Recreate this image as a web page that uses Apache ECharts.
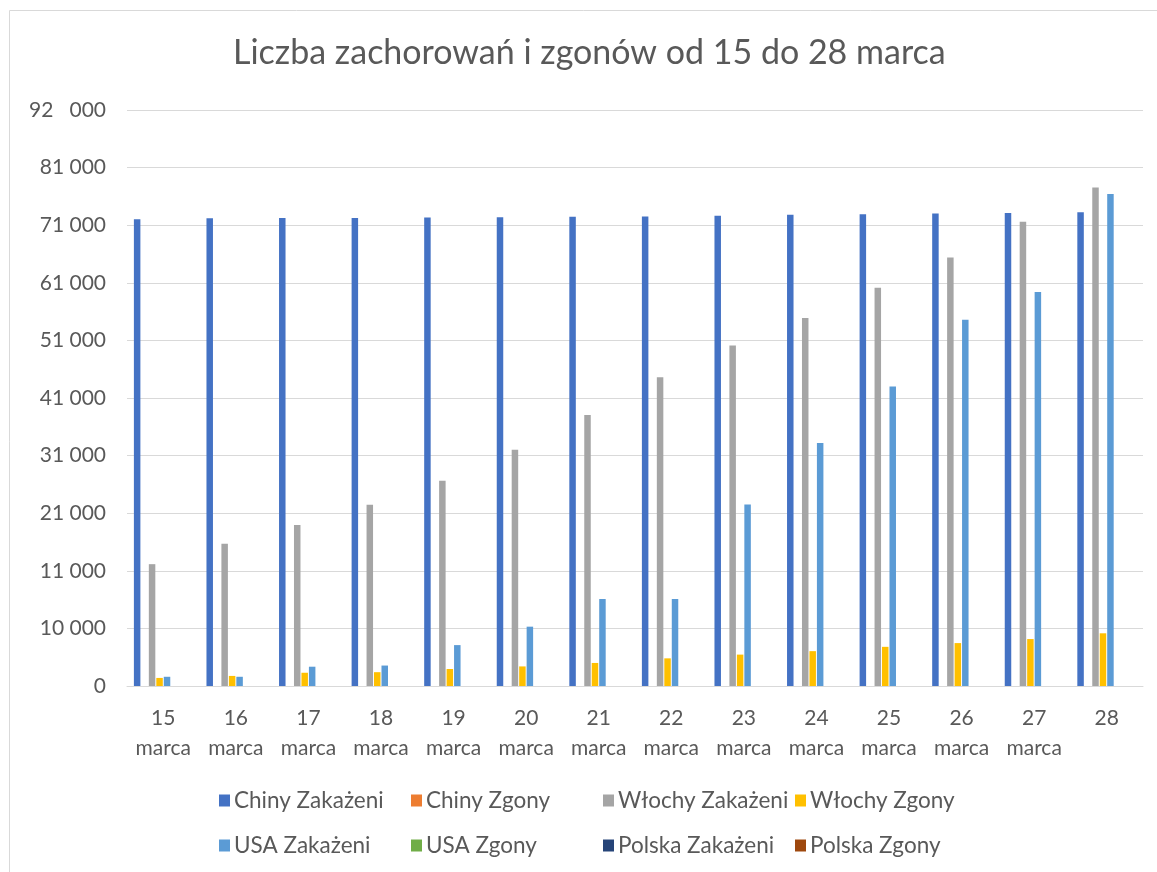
<!DOCTYPE html>
<html>
<head>
<meta charset="utf-8">
<script src="https://cdn.jsdelivr.net/npm/echarts@6/dist/echarts.min.js"></script>
<style>
  html, body { margin: 0; padding: 0; background: #fff; }
  #chart { width: 1157px; height: 872px; }
</style>
</head>
<body>
<div id="chart"></div>
<script>
// dni (etykiety osi X)
let days = ['15\nmarca', '16\nmarca', '17\nmarca', '18\nmarca', '19\nmarca', '20\nmarca', '21\nmarca',
  '22\nmarca', '23\nmarca', '24\nmarca', '25\nmarca', '26\nmarca', '27\nmarca', '28'];

// etykiety osi Y (takie jak w oryginale)
let yLabels = ['0', '10 000', '11 000', '21 000', '31 000', '41 000', '51 000', '61 000', '71 000', '81 000', '92   000'];

let chinyZakazeni = [81050, 81200, 81250, 81250, 81350, 81400, 81450, 81500, 81650, 81800, 81900, 82050, 82100, 82250];
let chinyZgony = [0, 0, 0, 0, 0, 0, 0, 0, 0, 0, 0, 0, 0, 0];
let wlochyZakazeni = [21150, 24700, 27950, 31450, 35650, 41000, 47050, 53600, 59100, 63900, 69150, 74400, 80600, 86550];
let wlochyZgony = [1400, 1750, 2300, 2400, 2950, 3400, 4000, 4800, 5450, 6050, 6800, 7450, 8150, 9150];
let usaZakazeni = [1600, 1600, 3350, 3550, 7100, 10300, 15100, 15100, 31500, 42200, 52000, 63600, 68400, 85400];
let usaZgony = [0, 0, 0, 0, 0, 0, 0, 0, 0, 0, 0, 0, 0, 0];
let polskaZakazeni = [0, 0, 0, 0, 0, 0, 0, 0, 0, 0, 0, 0, 0, 0];
let polskaZgony = [0, 0, 0, 0, 0, 0, 0, 0, 0, 0, 0, 0, 0, 0];

let seriesNames = ['Chiny Zakażeni', 'Chiny Zgony', 'Włochy Zakażeni', 'Włochy Zgony',
  'USA Zakażeni', 'USA Zgony', 'Polska Zakażeni', 'Polska Zgony'];
let seriesData = [chinyZakazeni, chinyZgony, wlochyZakazeni, wlochyZgony,
  usaZakazeni, usaZgony, polskaZakazeni, polskaZgony];

let colors = ['#4472C4', '#ED7D31', '#A5A5A5', '#FFC000', '#5B9BD5', '#70AD47', '#264478', '#9E480E'];

let font = 'Lato';
let textColor = '#595959';

// legenda: 4 kolumny x 2 wiersze
let legendLeft = [219, 411, 603, 795];
let legendTop = [789, 834];
let legends = seriesNames.map(function (name, i) {
  return {
    data: [name],
    left: legendLeft[i % 4],
    top: legendTop[Math.floor(i / 4)],
    icon: 'rect',
    itemWidth: 11,
    itemHeight: 12,
    itemGap: 0,
    padding: 0,
    selectedMode: false,
    textStyle: { color: textColor, fontSize: 22.5, fontFamily: font, padding: [0, 0, 0, -1] }
  };
});

let myChart = echarts.init(document.getElementById('chart'));
myChart.setOption({
  animation: false,
  color: colors,
  textStyle: { fontFamily: font },
  title: {
    text: 'Liczba zachorowań i zgonów od 15 do 28 marca',
    left: 233,
    top: 36,
    padding: 0,
    textStyle: { color: textColor, fontSize: 34, fontWeight: 'normal', fontFamily: font }
  },
  legend: legends,
  grid: {
    left: 127,
    right: 14,
    top: 110,
    bottom: 186
  },
  xAxis: {
    type: 'category',
    data: days,
    axisLine: { lineStyle: { color: '#D9D9D9', width: 1 } },
    axisTick: { show: false },
    axisLabel: {
      color: textColor,
      fontSize: 21,
      fontFamily: font,
      lineHeight: 30,
      margin: 17,
      interval: 0
    }
  },
  yAxis: {
    type: 'value',
    min: 0,
    max: 100000,
    interval: 10000,
    axisLine: { show: false },
    axisTick: { show: false },
    splitLine: { lineStyle: { color: '#D9D9D9', width: 1 } },
    axisLabel: {
      color: textColor,
      fontSize: 21,
      fontFamily: font,
      margin: 21,
      formatter: function (value) {
        return yLabels[Math.round(value / 10000)];
      }
    }
  },
  series: seriesNames.map(function (name, i) {
    return {
      name: name,
      type: 'bar',
      data: seriesData[i],
      barCategoryGap: '19%',
      barGap: '15%'
    };
  }),
  graphic: [{
    type: 'rect',
    shape: { x: 9.5, y: 10.5, width: 1200, height: 900 },
    style: { fill: 'none', stroke: '#D9D9D9', lineWidth: 1 },
    silent: true
  }]
});
</script>
</body>
</html>
